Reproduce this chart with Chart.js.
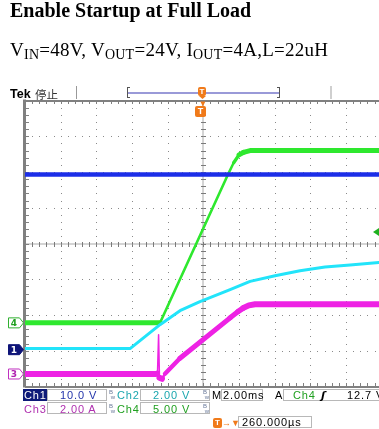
<!DOCTYPE html>
<html>
<head>
<meta charset="utf-8">
<script src="https://cdn.jsdelivr.net/npm/chart.js@4"></script>
<style>
  html, body { margin: 0; padding: 0; background: #fff; }
  body { width: 379px; height: 429px; overflow: hidden; position: relative; }
  #c { position: absolute; left: 0; top: 0; }
  .t { position: absolute; white-space: nowrap; line-height: 1; }
  #title { left: 10px; top: 0px; font: bold 20px "Liberation Serif", serif; line-height: 20px; }
  #sub { left: 10px; top: 40px; font: 19px "Liberation Serif", serif; line-height: 19px; letter-spacing: 0.25px; }
  #sub span { font-size: 14px; position: relative; top: 2.5px; }
  .st { position: absolute; white-space: nowrap; font: 11px "Liberation Sans", sans-serif; letter-spacing: 0.9px; line-height: 12px; }
  .box { position: absolute; border: 1px solid #b8b8b8; box-sizing: border-box; height: 12px; }
  .bw { position: absolute; font: 6px "Liberation Sans", sans-serif; color: #6a7a9a; line-height: 5px; }
  .tmark { position: absolute; background: #f07a1a; color: #fff; font: bold 9px "Liberation Sans", sans-serif; text-align: center; border-radius: 2px; }
  .chm { position: absolute; font: bold 9px "DejaVu Sans", sans-serif; line-height: 10px; text-align: center; width: 12px; }
</style>
</head>
<body>
<canvas id="c" width="400" height="429" style="width:400px;height:429px"></canvas>

<div id="title" class="t">Enable Startup at Full Load</div>
<div id="sub" class="t">V<span>IN</span>=48V, V<span>OUT</span>=24V, I<span>OUT</span>=4A,L=22uH</div>

<div class="t" style="left:10px;top:87px;font:bold 12.5px 'Liberation Sans',sans-serif;">Tek</div>
<div class="t" style="left:35px;top:86px;font:11.5px 'Noto Sans CJK SC',sans-serif;color:#333;">停止</div>
<div class="tmark" style="left:198px;top:87px;width:8px;height:9px;line-height:9px;font-size:8px;">T</div>
<div class="tmark" style="left:195px;top:106px;width:11px;height:11px;line-height:11px;">T</div>

<div id="m1" class="chm" style="left:8px;color:#fff;">1</div>
<div id="m3" class="chm" style="left:8px;color:#b020b0;">3</div>
<div id="m4" class="chm" style="left:8px;color:#20a020;">4</div>

<!-- status rows -->
<div class="st" style="left:23px;top:389px;width:24px;height:12px;background:#0e1a78;color:#fff;padding-left:1px;box-sizing:border-box;">Ch1</div>
<div class="box" style="left:47px;top:389px;width:60px;"></div>
<div class="st" style="left:60px;top:389px;color:#2233aa;">10.0 V</div>
<div class="bw" style="left:109px;top:390px;">B<br>&nbsp;w</div>
<div class="st" style="left:117px;top:389px;color:#1aa6ae;">Ch2</div>
<div class="box" style="left:140px;top:389px;width:70px;"></div>
<div class="st" style="left:153px;top:389px;color:#1aa6ae;">2.00 V</div>
<div class="bw" style="left:203px;top:390px;">B<br>&nbsp;w</div>
<div class="st" style="left:212px;top:389px;color:#000;">M</div>
<div class="box" style="left:221px;top:389px;width:42px;"></div>
<div class="st" style="left:223px;top:389px;color:#000;">2.00ms</div>
<div class="st" style="left:275px;top:389px;color:#000;">A</div>
<div class="box" style="left:283px;top:389px;width:110px;"></div>
<div class="st" style="left:293px;top:389px;color:#20a020;">Ch4</div>
<div class="st" style="left:321px;top:389px;color:#000;font:bold italic 11px 'DejaVu Sans',sans-serif;">ʃ</div>
<div class="st" style="left:347px;top:389px;color:#000;">12.7 V</div>

<div class="st" style="left:24px;top:403px;color:#b030b0;">Ch3</div>
<div class="box" style="left:47px;top:402px;width:60px;"></div>
<div class="st" style="left:60px;top:403px;color:#b030b0;">2.00 A</div>
<div class="bw" style="left:109px;top:404px;">B<br>&nbsp;w</div>
<div class="st" style="left:117px;top:403px;color:#20a020;">Ch4</div>
<div class="box" style="left:140px;top:402px;width:70px;"></div>
<div class="st" style="left:153px;top:403px;color:#20a020;">5.00 V</div>
<div class="bw" style="left:203px;top:404px;">B<br>&nbsp;w</div>

<div class="tmark" style="left:213px;top:418px;width:9px;height:10px;line-height:10px;font-size:8px;">T</div>
<div class="st" style="left:222px;top:417px;color:#f07a1a;letter-spacing:0;font-size:9px;">&#x2192;&#x25BC;</div>
<div class="box" style="left:238px;top:416px;width:74px;"></div>
<div class="st" style="left:242px;top:416px;color:#000;">260.000µs</div>

<script>
// scope settings
const chNames = ['Ch1', 'Ch2', 'Ch3', 'Ch4'];
const chPerDiv = [10, 2, 2, 5];              // V/div, A/div
const chGroundDiv = [-2.97, -2.97, -3.65, -2.22];
const trigLevel = 12.7;                      // Ch4, volts
const timeRange = [-10, 10];                 // ms, 2 ms/div

// Ch1: VIN (V)
const ch1Time = [-10, 10];
const ch1Volts = [49.0, 49.0];

// Ch2: soft-start (V)
const ch2Time = [-10, -4.11, -3.27, -2.43, -1.31, -0.19, 1.50, 2.62, 4.02, 5.42, 6.82, 8.23, 10];
const ch2Volts = [0.06, 0.06, 0.73, 1.40, 2.18, 2.69, 3.36, 3.82, 4.14, 4.42, 4.62, 4.74, 4.89];

// Ch3: IOUT (A)
const ch3Time = [-10, -2.65, -2.57, -2.51, -2.46, -2.32, -2.15, -1.31, 1.50, 1.95, 2.25, 2.55, 2.90, 10];
const ch3Amps = [0, 0, 0.1, 2.19, -0.21, -0.27, 0.01, 0.88, 3.14, 3.50, 3.70, 3.84, 3.90, 3.90];

// Ch4: VOUT (V)
const ch4Time = [-10, -2.43, 1.39, 1.70, 2.00, 2.25, 2.62, 10];
const ch4Volts = [0, 0, 20.8, 22.4, 23.5, 23.85, 24.1, 24.1];

function pts(t, v) { return t.map((x, i) => ({ x: x, y: v[i] })); }

function axisFor(i) {
  const g = chGroundDiv[i], s = chPerDiv[i];
  return { type: 'linear', display: false, min: (-4 - g) * s, max: (4 - g) * s };
}

// noisy flat parts look thick, steep edges thin
const bandWidth = (flat, steep) => ctx => {
  const dx = Math.abs(ctx.p1.x - ctx.p0.x) || 0.01, dy = Math.abs(ctx.p1.y - ctx.p0.y);
  const s = dy / dx;
  if (s <= 0.5) return flat;
  if (s >= 2) return steep;
  return steep + (flat - steep) * (2 - s) / 1.5;
};

const graticule = {
  id: 'graticule',
  beforeDatasetsDraw(chart) {
    const { ctx, chartArea: a } = chart;
    const dx = (a.right - a.left) / 10, dy = (a.bottom - a.top) / 8;
    const cx = a.left + 5 * dx, cy = a.top + 4 * dy;
    ctx.save();
    // center cross
    ctx.fillStyle = '#d4d4d4';
    ctx.fillRect(a.left, Math.round(cy) - 1, a.right - a.left, 2);
    ctx.fillRect(Math.round(cx) - 1, a.top, 2, a.bottom - a.top);
    ctx.fillStyle = '#7a7a7a';
    for (let k = 1; k < 50; k++) ctx.fillRect(Math.round(a.left + k * dx / 5), Math.round(cy) - 2, 1, 5);
    for (let k = 1; k < 40; k++) ctx.fillRect(Math.round(cx) - 2, Math.round(a.top + k * dy / 5), 5, 1);
    // dotted division lines
    ctx.fillStyle = '#8a8a8a';
    for (let i = 1; i < 10; i++) {
      if (i === 5) continue;
      const x = Math.round(a.left + i * dx);
      for (let k = 1; k < 40; k++) ctx.fillRect(x, Math.round(a.top + k * dy / 5), 1, 1);
    }
    for (let j = 1; j < 8; j++) {
      if (j === 4) continue;
      const y = Math.round(a.top + j * dy);
      for (let k = 1; k < 50; k++) ctx.fillRect(Math.round(a.left + k * dx / 5), y, 1, 1);
    }
    // border with ticks
    ctx.fillStyle = '#808080';
    ctx.fillRect(a.left, Math.round(a.top) - 1, a.right - a.left, 2);
    ctx.fillRect(a.left, Math.round(a.bottom) - 1, a.right - a.left, 2);
    ctx.fillRect(a.left - 2, a.top - 1, 3, a.bottom - a.top + 2);
    for (let k = 1; k < 50; k++) {
      const x = Math.round(a.left + k * dx / 5);
      ctx.fillRect(x, Math.round(a.top), 1, 3);
      ctx.fillRect(x, Math.round(a.bottom) - 4, 1, 3);
    }
    for (let k = 1; k < 40; k++) ctx.fillRect(a.left + 1, Math.round(a.top + k * dy / 5), 3, 1);
    ctx.restore();
  },
  afterDraw(chart) {
    const { ctx, chartArea: a, scales } = chart;
    const cx = (a.left + a.right) / 2;
    ctx.save();
    // record bar at top
    ctx.fillStyle = '#999';
    ctx.fillRect(76, 86, 1, 13);
    ctx.fillStyle = '#cfcfcf';
    ctx.fillRect(330, 86, 2, 13);
    ctx.fillStyle = '#555';
    ctx.fillRect(127, 87, 1, 11); ctx.fillRect(127, 87, 3, 1); ctx.fillRect(127, 97, 3, 1);
    ctx.fillRect(279, 87, 1, 11); ctx.fillRect(277, 87, 3, 1); ctx.fillRect(277, 97, 3, 1);
    ctx.fillStyle = '#9a9ad8';
    ctx.fillRect(128, 92, 151, 2);
    // trigger position pointer
    ctx.fillStyle = '#f07a1a';
    ctx.beginPath();
    ctx.moveTo(cx - 3, a.top + 1); ctx.lineTo(cx + 2, a.top + 1); ctx.lineTo(cx - 0.5, a.top + 6);
    ctx.fill();
    ctx.beginPath();
    ctx.moveTo(199, 96); ctx.lineTo(206, 96); ctx.lineTo(202.5, 99);
    ctx.fill();
    // trigger level arrow (Ch4)
    const ty = scales.y4.getPixelForValue(trigLevel);
    ctx.fillStyle = '#1fb01f';
    ctx.beginPath();
    ctx.moveTo(373, ty); ctx.lineTo(379, ty - 4); ctx.lineTo(379, ty + 4);
    ctx.fill();
    // channel ground markers
    const marks = [
      { y: scales.y1.getPixelForValue(0), fill: '#0e1478', stroke: '#0e1478' },
      { y: scales.y3.getPixelForValue(0), fill: '#fff', stroke: '#c030c0' },
      { y: scales.y4.getPixelForValue(0), fill: '#fff', stroke: '#30b030' }
    ];
    marks.forEach(m => {
      ctx.beginPath();
      ctx.moveTo(8.5, m.y - 5); ctx.lineTo(19.5, m.y - 5); ctx.lineTo(23.5, m.y);
      ctx.lineTo(19.5, m.y + 5); ctx.lineTo(8.5, m.y + 5); ctx.closePath();
      ctx.fillStyle = m.fill; ctx.fill();
      ctx.strokeStyle = m.stroke; ctx.lineWidth = 1; ctx.stroke();
    });
    ctx.restore();
  }
};

const chart = new Chart(document.getElementById('c'), {
  type: 'line',
  data: {
    datasets: [
      {
        label: chNames[0], data: pts(ch1Time, ch1Volts), yAxisID: 'y1',
        borderColor: '#1c2ee8', borderWidth: 4.5
      },
      {
        label: chNames[1], data: pts(ch2Time, ch2Volts), yAxisID: 'y2',
        borderColor: '#22e4fa', borderWidth: 3
      },
      {
        label: chNames[3], data: pts(ch4Time, ch4Volts), yAxisID: 'y4',
        borderColor: '#2ee82e', borderWidth: 5,
        segment: { borderWidth: bandWidth(5, 2.5) }
      },
      {
        label: chNames[2], data: pts(ch3Time, ch3Amps), yAxisID: 'y3',
        borderColor: '#ee22e4', borderWidth: 6,
        segment: { borderWidth: bandWidth(6, 1.5) }
      }
    ]
  },
  options: {
    responsive: false,
    animation: false,
    devicePixelRatio: 1,
    layout: { padding: { left: 25, top: 100.5, right: 18.3, bottom: 42.5 } },
    elements: {
      point: { radius: 0 },
      line: { tension: 0, borderCapStyle: 'round', borderJoinStyle: 'round' }
    },
    scales: {
      x: { type: 'linear', display: false, min: timeRange[0], max: timeRange[1] },
      y1: axisFor(0),
      y2: axisFor(1),
      y3: axisFor(2),
      y4: axisFor(3)
    },
    plugins: { legend: { display: false }, tooltip: { enabled: false } }
  },
  plugins: [graticule]
});

// place marker digits on the channel ground levels
[['m1', 'y1'], ['m3', 'y3'], ['m4', 'y4']].forEach(([id, ax]) => {
  const y = chart.scales[ax].getPixelForValue(0);
  document.getElementById(id).style.top = (y - 5) + 'px';
});
</script>
</body>
</html>
